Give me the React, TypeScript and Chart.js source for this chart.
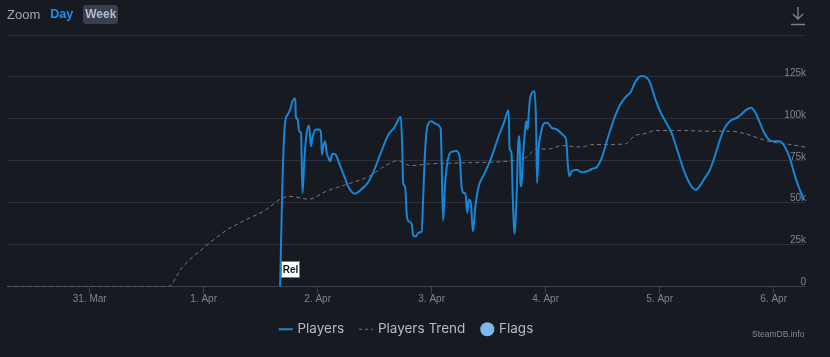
import React, { useEffect, useRef } from 'react';
import { Chart, registerables } from 'chart.js';

Chart.register(...registerables);

// Hours counted from 30 Mar 00:00
const tickHours = [24, 48, 72, 96, 120, 144, 168];
const tickLabels = ['31. Mar', '1. Apr', '2. Apr', '3. Apr', '4. Apr', '5. Apr', '6. Apr'];

const playersHours = [
  64.1, 64.6, 65.1, 65.7, 66.2, 66.7, 67.3, 67.4, 67.8, 68.1,
  68.5, 68.8, 69.2, 69.7, 70.2, 70.6, 70.9, 71.6, 72.3, 72.7,
  72.9, 73.2, 73.6, 73.9, 74.3, 74.6, 75.1, 75.8, 76.5, 77.6,
  78.6, 79.9, 81.1, 82.5, 83.5, 85.3, 86.9, 88.1, 89.5, 89.8,
  90.0, 90.4, 90.8, 91.2, 91.8, 92.1, 92.6, 93.3, 93.9, 94.2,
  94.6, 95.1, 96.0, 96.8, 97.9, 98.1, 98.4, 98.8, 99.3, 100.0,
  100.7, 101.1, 101.9, 102.3, 102.8, 103.1, 103.5, 103.8, 104.2, 104.7,
  105.2, 105.9, 107.0, 108.4, 110.1, 111.2, 112.2, 112.4, 112.8, 113.1,
  113.4, 113.6, 113.9, 114.2, 114.5, 114.7, 114.9, 115.2, 115.6, 115.9,
  116.2, 116.4, 116.8, 117.7, 118.0, 118.2, 118.5, 119.1, 119.6, 120.3,
  121.3, 122.4, 123.8, 124.3, 124.7, 125.0, 125.5, 126.6, 127.6, 128.7,
  129.7, 130.8, 131.8, 133.2, 134.6, 135.7, 136.7, 138.0, 138.8, 139.5,
  140.2, 141.3, 142.0, 143.0, 144.1, 145.1, 146.5, 147.9, 149.3, 150.6,
  151.6, 152.5, 153.5, 154.6, 155.6, 156.7, 157.7, 158.8, 160.2, 161.2,
  162.3, 163.3, 164.0, 165.1, 166.1, 167.2, 168.2, 169.3, 170.3, 171.4,
  172.4, 173.5, 174.4,
];
const playersValues = [
  0, 63700, 96600, 102600, 105500, 110500, 112100, 101500, 99600, 92600,
  91600, 55700, 75600, 91600, 96000, 83600, 88600, 93600, 93600, 91600,
  78600, 83600, 86600, 79700, 76700, 74600, 79200, 78600, 73700, 65700,
  58700, 55300, 57700, 61700, 66700, 79700, 90600, 94600, 101200, 83600,
  61700, 59700, 41700, 38800, 37400, 30800, 29800, 32200, 32800, 51700,
  79700, 95600, 98600, 97000, 94200, 75600, 39300, 59700, 73700, 80000,
  80600, 81000, 77300, 59700, 55700, 55700, 43800, 51700, 50700, 32800,
  47700, 59700, 66700, 75600, 89600, 97600, 105100, 82600, 79700, 51700,
  31400, 35800, 55700, 83600, 89600, 61700, 59700, 75600, 91200, 98600,
  93600, 101500, 113500, 116500, 95600, 61700, 81600, 92600, 97200, 97600,
  94600, 93600, 90000, 87600, 71600, 65700, 68700, 69700, 68100, 68700,
  70100, 71300, 76700, 89600, 101500, 108500, 112500, 116500, 121500, 124500,
  125500, 124500, 121500, 112500, 104500, 99100, 91600, 79700, 67700, 60100,
  57700, 60100, 64700, 69700, 77600, 87600, 94600, 98600, 100600, 102600,
  105500, 106600, 104500, 97600, 91200, 87200, 86600, 86600, 83600, 76700,
  66700, 57700, 51700,
];

const trendHours = [
  6.6, 40.5, 43.6, 48.5, 52.7, 56.9, 61.1, 63.9, 66.0, 70.2,
  73.7, 77.9, 82.8, 86.3, 88.8, 91.6, 95.4, 101.7, 112.9, 115.7,
  118.2, 120.6, 123.4, 127.6, 129.7, 136.7, 138.8, 140.9, 143.0, 149.3,
  154.9, 159.1, 161.9, 164.7, 167.5, 170.3, 174.6,
];
const trendValues = [
  0, 0, 11800, 24200, 33400, 39800, 45700, 51700, 53800, 52100,
  56700, 60700, 65700, 72100, 75000, 72100, 73100, 73700, 75000, 76700,
  82000, 82000, 84000, 83200, 84600, 85000, 90000, 91200, 93000, 93000,
  92600, 92600, 91200, 88600, 86200, 85200, 83200,
];

const flagHours = [64.2];
const flagTitles = ['Rel'];

const BG = '#171a21';
const GRID = '#2c313b';
const AXIS = '#3b4250';
const TICK_TEXT = '#7d8590';
const BLUE = '#1786d6';
const TREND = '#737a85';
const FLAG_BLUE = '#7db7ee';
const LEGEND_TEXT = '#b3bbc6';
const SANS = '"Liberation Sans", Arial, sans-serif';

const flagPlugin = {
  id: 'flagBoxes',
  afterDatasetsDraw(chart: any) {
    const { ctx, scales } = chart;
    const xs = scales.x;
    const ys = scales.y;
    ctx.save();
    ctx.font = 'bold 10px ' + SANS;
    flagHours.forEach((h, i) => {
      const text = flagTitles[i];
      const px = xs.getPixelForValue(h);
      const base = ys.getPixelForValue(0);
      const w = Math.round(ctx.measureText(text).width) + 2;
      const hgt = 16;
      const left = Math.round(px) + 0.5;
      const top = Math.round(base - 26) + 0.5;
      ctx.fillStyle = '#ffffff';
      ctx.fillRect(left, top, w, hgt);
      ctx.strokeStyle = '#9a7b3e';
      ctx.lineWidth = 1;
      ctx.strokeRect(left, top, w, hgt);
      ctx.fillStyle = '#16181d';
      ctx.textAlign = 'center';
      ctx.textBaseline = 'middle';
      ctx.fillText(text, left + w / 2, top + hgt / 2 + 0.5);
    });
    ctx.restore();
  },
};

export default function App() {
  const canvasRef = useRef<HTMLCanvasElement | null>(null);

  useEffect(() => {
    document.body.style.margin = '0';
    document.body.style.background = BG;
    const canvas = canvasRef.current;
    if (!canvas) return;
    const chart = new Chart(canvas, {
      type: 'line',
      data: {
        datasets: [
          {
            label: 'Players',
            data: playersHours.map((h, i) => ({ x: h, y: playersValues[i] })),
            borderColor: BLUE,
            backgroundColor: BLUE,
            borderWidth: 2,
            pointRadius: 0,
            cubicInterpolationMode: 'monotone',
            order: 1,
          },
          {
            label: 'Players Trend',
            data: trendHours.map((h, i) => ({ x: h, y: trendValues[i] })),
            borderColor: TREND,
            backgroundColor: TREND,
            borderWidth: 1,
            borderDash: [4, 3],
            pointRadius: 0,
            cubicInterpolationMode: 'monotone',
            order: 2,
          },
          {
            label: 'Flags',
            data: flagHours.map((h) => ({ x: h, y: 0 })),
            borderColor: FLAG_BLUE,
            backgroundColor: FLAG_BLUE,
            showLine: false,
            pointRadius: 0,
            order: 0,
          },
        ],
      },
      options: {
        animation: false,
        responsive: false,
        maintainAspectRatio: false,
        layout: { padding: { left: 7, right: 23, top: 35, bottom: 11 } },
        scales: {
          x: {
            type: 'linear',
            min: 6.6,
            max: 174.6,
            afterBuildTicks: (axis: any) => {
              axis.ticks = tickHours.map((v) => ({ value: v }));
            },
            ticks: {
              autoSkip: false,
              maxRotation: 0,
              padding: 0,
              color: TICK_TEXT,
              font: { family: SANS, size: 10 },
              callback: (_v: any, i: number) => tickLabels[i],
            },
            grid: { drawOnChartArea: false, drawTicks: true, tickLength: 7, color: AXIS, tickColor: AXIS },
            border: { display: true, color: AXIS, width: 1 },
          },
          y: {
            position: 'right',
            min: 0,
            max: 150000,
            ticks: {
              stepSize: 25000,
              mirror: true,
              padding: 1,
              labelOffset: -4,
              color: TICK_TEXT,
              font: { family: SANS, size: 10 },
              callback: (v: any) => (v === 0 ? '0' : v >= 150000 ? '' : v / 1000 + 'k'),
            },
            grid: { color: GRID, drawTicks: false },
            border: { display: false },
          },
        },
        plugins: {
          tooltip: { enabled: false },
          legend: {
            position: 'bottom',
            labels: {
              usePointStyle: true,
              boxWidth: 10,
              boxHeight: 10,
              padding: 17,
              color: LEGEND_TEXT,
              font: { family: 'Inter, "Noto Sans", sans-serif', size: 13.5 },
              generateLabels: () => [
                { text: 'Players', fillStyle: BLUE, strokeStyle: BLUE, lineWidth: 2, pointStyle: 'line', lineDash: [], hidden: false, datasetIndex: 0, fontColor: LEGEND_TEXT },
                { text: 'Players Trend', fillStyle: TREND, strokeStyle: TREND, lineWidth: 1, pointStyle: 'line', lineDash: [3, 3], hidden: false, datasetIndex: 1, fontColor: LEGEND_TEXT },
                { text: 'Flags', fillStyle: FLAG_BLUE, strokeStyle: FLAG_BLUE, lineWidth: 0, pointStyle: 'circle', lineDash: [], hidden: false, datasetIndex: 2, fontColor: LEGEND_TEXT },
              ],
            },
          },
        },
      },
      plugins: [flagPlugin],
    } as any);
    return () => chart.destroy();
  }, []);

  return (
    <div style={{ position: 'relative', width: 830, height: 357, background: BG, overflow: 'hidden', fontFamily: SANS }}>
      <canvas ref={canvasRef} width={830} height={357} style={{ display: 'block', width: 830, height: 357 }} />
      <div style={{ position: 'absolute', left: 7, top: 5, height: 19, display: 'flex', alignItems: 'center', fontSize: 13, lineHeight: '19px' }}>
        <span style={{ color: '#a3a7ad' }}>Zoom</span>
        <span style={{ color: '#1f8ff0', fontWeight: 'bold', fontSize: 12.5, marginLeft: 10 }}>Day</span>
        <span style={{ color: '#b4bcc8', fontWeight: 'bold', fontSize: 12, marginLeft: 10, background: '#384050', borderRadius: 3, padding: '0 2px', height: 19, lineHeight: '19px' }}>Week</span>
      </div>
      <svg style={{ position: 'absolute', left: 790, top: 6 }} width={16} height={20} viewBox="0 0 16 20">
        <path d="M8 1 V13 M3 8 L8 13 L13 8 M1 18.5 H15" stroke="#7a808a" strokeWidth={1.4} fill="none" />
      </svg>
      <div style={{ position: 'absolute', left: 752, top: 329, fontSize: 8.5, color: '#858b94' }}>SteamDB.info</div>
    </div>
  );
}
